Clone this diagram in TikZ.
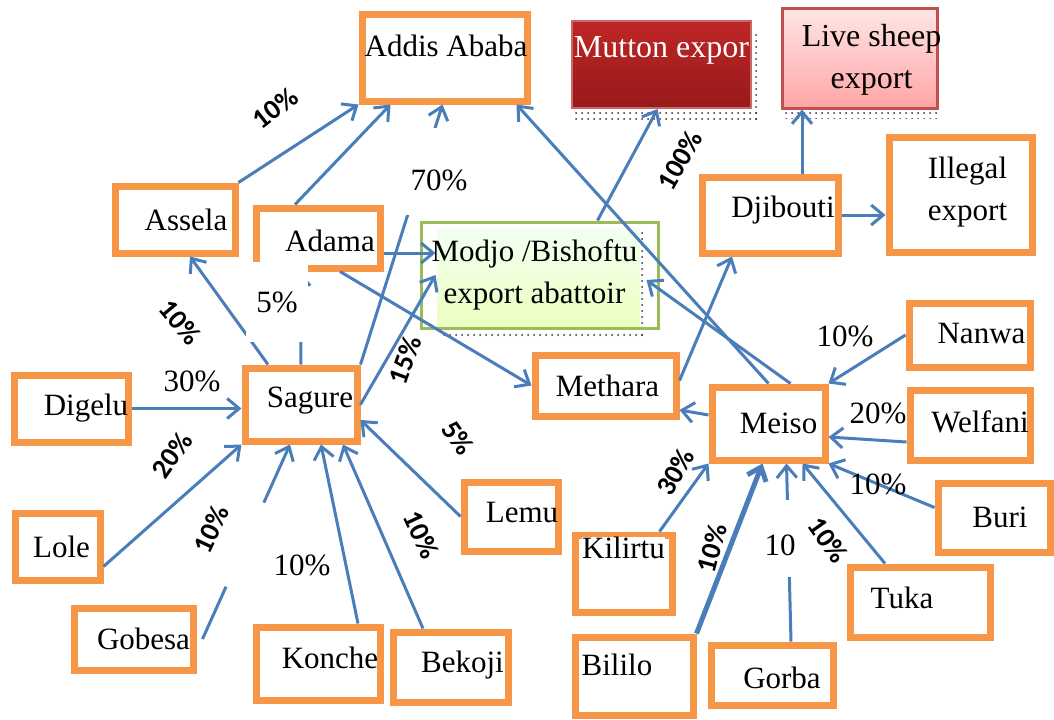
\documentclass[tikz,border=0pt]{standalone}
\usepackage{fontspec}
\setmainfont{Liberation Serif}
\newfontfamily\pctfont{Carlito}
\usetikzlibrary{arrows.meta, positioning, calc, patterns}
\definecolor{boxorange}{HTML}{F79646}
\definecolor{flowblue}{HTML}{4A7EBB}
\definecolor{modjogreen}{HTML}{9BBB59}
\definecolor{muttonred}{HTML}{C0504D}

\begin{document}
\begin{tikzpicture}[x=0.5pt,y=-0.5pt,>={Straight Barb[length=6pt,width=10pt]},
	font=\fontsize{15.5}{21}\selectfont,
	place/.style={draw=boxorange,line width=3.5pt,inner sep=0pt},
	flow/.style={->,draw=flowblue,line width=1.5pt},
	tilted/.style={font=\pctfont\bfseries\fontsize{14}{14}\selectfont,inner sep=1pt},
	cover/.style={fill=white,inner sep=0pt}]

	\useasboundingbox (0,0) rectangle (1054,719);

	% shadows and fills of the export boxes
	\fill[pattern=dots,pattern color=black!80] (575,108) rectangle (757,122);
	\fill[pattern=dots,pattern color=black!80] (751,30) rectangle (757,122);
	\fill[pattern=dots,pattern color=black!80] (785,108) rectangle (937,118);
	\shade[top color=green!5!white,bottom color=green!30!yellow!25!white] (437,228) rectangle (640,328);
	\fill[pattern=dots,pattern color=black!80] (640,228) rectangle (646,336);
	\fill[pattern=dots,pattern color=black!80] (440,328) rectangle (646,336);

	% destinations
	\node[place,minimum width=82.5pt,minimum height=43.5pt,label={[xshift=0.75pt,yshift=6pt]center:Addis Ababa}] (addis) at (444.5,57.5) {};
	\node[draw=muttonred!85,line width=1pt,top color=red!70!black!85,bottom color=red!55!black!90,minimum width=89.5pt,minimum height=43.5pt,label={[white,yshift=7pt,font=\fontsize{16}{21}\selectfont]center:Mutton expor}] (mutton) at (661.5,64.5) {};
	\node[draw=muttonred,line width=1.5pt,top color=red!10!white,bottom color=red!35!white,minimum width=77.5pt,minimum height=50pt,label={[align=center,xshift=6pt,yshift=-1pt,font=\fontsize{16}{21}\selectfont]center:Live sheep\\export}] (live) at (859.5,58) {};
	\node[draw=modjogreen,line width=1.5pt,minimum width=118.5pt,minimum height=53pt,label={[align=center,xshift=-2.5pt]center:Modjo /Bishoftu\\export abattoir}] (modjo) at (539.5,275) {};
	\node[place,minimum width=68pt,minimum height=38pt,label={[xshift=6.5pt,yshift=2.5pt]center:Djibouti}] (djib) at (770,215) {};
	\node[place,minimum width=71.5pt,minimum height=57.5pt,label={[align=center,xshift=3.5pt,yshift=1pt]center:Illegal\\export}] (illegal) at (960.5,194.5) {};

	% markets
	\node[place,minimum width=60pt,minimum height=33.5pt,label={[xshift=5.5pt]center:Assela}] (assela) at (175,219.5) {};
	\node[place,minimum width=62pt,minimum height=30pt,label={[xshift=6pt,yshift=-1.5pt]center:Adama}] (adama) at (318,238) {};
	\node[place,minimum width=56pt,minimum height=36.5pt,label={[xshift=4.5pt,yshift=2pt]center:Sagure}] (sagure) at (301,404.5) {};
	\node[place,minimum width=70.5pt,minimum height=30.5pt,label={[xshift=1pt]center:Methara}] (methara) at (605.5,385.5) {};
	\node[place,minimum width=56.5pt,minimum height=36.5pt,label={[xshift=5pt]center:Meiso}] (meiso) at (768.5,423.5) {};

	% sources
	\node[place,minimum width=57pt,minimum height=33.5pt,label={[xshift=7.5pt]center:Digelu}] (digelu) at (71,408.5) {};
	\node[place,minimum width=42.5pt,minimum height=33.5pt,label={[xshift=2pt]center:Lole}] (lole) at (57.5,546.5) {};
	\node[place,minimum width=59.5pt,minimum height=31pt,label={[xshift=5pt]center:Gobesa}] (gobesa) at (133.5,639) {};
	\node[place,minimum width=62pt,minimum height=36.5pt,label={[xshift=6pt,yshift=3pt]center:Konche}] (konche) at (318,663.5) {};
	\node[place,minimum width=57.5pt,minimum height=35pt,label={[xshift=6pt,yshift=1pt]center:Bekoji}] (bekoji) at (450.5,667) {};
	\node[place,minimum width=47pt,minimum height=34.5pt,label={[xshift=5.5pt,yshift=2pt]center:Lemu}] (lemu) at (511,516.5) {};
	\node[place,minimum width=48.5pt,minimum height=38.5pt,label={[fill=white,inner sep=0pt,yshift=13pt]center:Kilirtu}] (kilirtu) at (623.5,573.5) {};
	\node[place,minimum width=59pt,minimum height=39pt,label={[xshift=-8.5pt,yshift=5.5pt]center:Bililo}] (bililo) at (634,676) {};
	\node[place,minimum width=61pt,minimum height=30pt,label={[xshift=5pt,yshift=-1.5pt]center:Gorba}] (gorba) at (772,675) {};
	\node[place,minimum width=70pt,minimum height=35pt,label={[xshift=-9pt,yshift=2pt]center:Tuka}] (tuka) at (920,602) {};
	\node[place,minimum width=56pt,minimum height=34.5pt,label={[xshift=3pt]center:Buri}] (buri) at (994,517.5) {};
	\node[place,minimum width=60pt,minimum height=35pt,label={[xshift=5pt,yshift=1.5pt]center:Welfani}] (welfani) at (970,425) {};
	\node[place,minimum width=60.5pt,minimum height=32pt,label={[xshift=6pt,yshift=1pt]center:Nanwa}] (nanwa) at (969.5,335) {};

	% flows
	\draw[flow] (assela.north east) -- (addis.south west);
	\draw[flow] ([xshift=-11.5pt]adama.north) -- ([xshift=-27pt]addis.south);
	\draw[flow] (sagure.north east) -- ([xshift=-1pt]addis.south);
	\draw[flow] ([xshift=-16.5pt]sagure.north) -- ([xshift=7.5pt]assela.south);
	\draw[flow] (sagure.north) -- ([xshift=-9pt]adama.south);
	\draw[flow] ([xshift=11pt]adama.south) -- (methara.west);
	\draw[flow] ([yshift=-7.5pt]adama.east) -- ([xshift=8pt,yshift=11pt]modjo.west);
	\draw[flow] (sagure.east) -- ([xshift=8pt]modjo.west);
	\draw[flow] (digelu.east) -- (digelu.east -| sagure.west);
	\draw[flow] ([yshift=-10pt]lole.east) -- (sagure.south west);
	\draw[flow] ([xshift=3pt]gobesa.east) -- ([xshift=-5.5pt]sagure.south);
	\draw[flow] ([xshift=20pt]konche.north) -- ([xshift=10pt]sagure.south);
	\draw[flow] ([xshift=-13.75pt]bekoji.north) -- ([xshift=21pt]sagure.south);
	\draw[flow] (lemu.west) -- ([yshift=-7.75pt]sagure.east);
	\draw[flow] ([xshift=29pt]modjo.north) -- ([xshift=-2pt]mutton.south);
	\draw[flow] (meiso.north) -- ([xshift=-7pt]addis.south east);
	\draw[flow] ([xshift=11pt]meiso.north) -- ([xshift=-6.5pt,yshift=-2.5pt]modjo.east);
	\draw[flow] ([yshift=2.5pt]methara.east) -- ([xshift=-19pt]djib.south);
	\draw[flow] (djib.east) -- (djib.east -| illegal.west);
	\draw[flow] ([xshift=16pt]djib.north) -- ([xshift=16pt]djib.north |- live.south);
	\draw[flow] ([yshift=4.25pt]meiso.west) -- ([yshift=-12.25pt]methara.east);
	\draw[flow] (nanwa.west) -- (meiso.north east);
	\draw[flow] ([yshift=-8.5pt]welfani.west) -- ([yshift=-6.75pt]meiso.east);
	\draw[flow] ([yshift=5pt]buri.west) -- (meiso.south east);
	\draw[flow] ([xshift=-17.5pt]tuka.north) -- ([xshift=17pt]meiso.south);
	\draw[flow] ([xshift=9.5pt]gorba.north) -- ([xshift=9pt]meiso.south);
	\draw[flow,line width=2.5pt] (bililo.north east) -- ([xshift=-3pt]meiso.south);
	\draw[flow] ([xshift=18pt]kilirtu.north) -- (meiso.south west);

	% shares
	\node[tilted,rotate=38] (assela share) at (275,108) {10\%};
	\node[cover,minimum width=39pt,minimum height=43.5pt,text height=20pt] (addis share) at (439,171) {70\%};
	\node[cover,minimum width=31pt,minimum height=40pt] (adama share) at (277,302) {5\%};
	\node[tilted,rotate=-50] (sagure share) at (180,322) {10\%};
	\node (digelu share) at (192,381) {30\%};
	\node[tilted,rotate=55] (lole share) at (172,455) {20\%};
	\node[tilted,rotate=70] (modjo share) at (405,360) {15\%};
	\node[tilted,rotate=-55] (lemu share) at (458,438) {5\%};
	\node[tilted,cover,rotate=65,anchor=base,text height=10pt,text depth=16pt,minimum width=46pt] (gobesa share) at (220,533) {10\%};
	\node (konche share) at (302,565) {10\%};
	\node[tilted,rotate=-65] (bekoji share) at (421,535) {10\%};
	\node[tilted,rotate=60] (mutton share) at (680,160) {100\%};
	\node (nanwa share) at (845,336) {10\%};
	\node (welfani share) at (878,413) {20\%};
	\node (buri share) at (878,484) {10\%};
	\node[tilted,rotate=60] (kilirtu share) at (675,472) {30\%};
	\node[tilted,rotate=75] (bililo share) at (712,548) {10\%};
	\node[cover,minimum width=20pt,minimum height=38.5pt,text height=17.5pt] (gorba share) at (780,538) {10};
	\node[tilted,rotate=-55] (tuka share) at (828,540) {10\%};

\end{tikzpicture}
\end{document}
